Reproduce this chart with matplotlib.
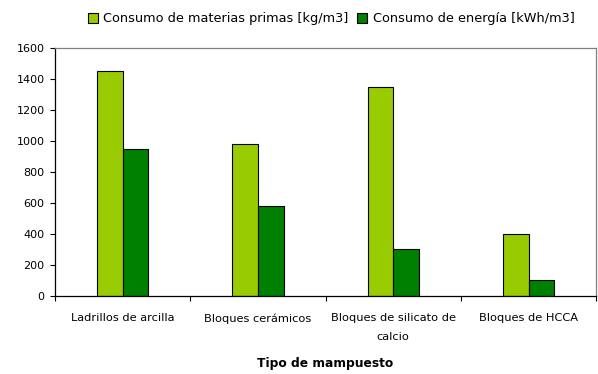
import matplotlib

matplotlib.use("Agg")
import matplotlib.pyplot as plt
import numpy as np

categorias = ["Ladrillos de arcilla", "Bloques cerámicos", "Bloques de silicato de\ncalcio", "Bloques de HCCA"]
materias_primas = [1450, 980, 1350, 400]
energia = [950, 580, 300, 100]
series = ["Consumo de materias primas [kg/m3]", "Consumo de energía [kWh/m3]"]

_LIGHT = "#99cc00"
_DARK = "#008000"

plt.rcParams["font.family"] = ["DejaVu Sans"]

fig = plt.figure(figsize=(5.98, 3.74), dpi=100)
ax = fig.add_axes([0.092, 0.209, 0.905, 0.663])

x = np.arange(len(categorias))
w = 0.19
ax.bar(x - w / 2, materias_primas, w, color=_LIGHT, edgecolor="black", linewidth=0.8, label=series[0])
ax.bar(x + w / 2, energia, w, color=_DARK, edgecolor="black", linewidth=0.8, label=series[1])

ax.set_xlim(-0.5, len(categorias) - 0.5)
ax.set_ylim(0, 1600)
ax.set_yticks(range(0, 1601, 200))
ax.tick_params(axis="y", labelsize=8, length=3.5, width=0.8, pad=4)

# category labels sit between boundary ticks
ax.set_xticks(x)
ax.set_xticklabels(categorias, fontsize=8.2, linespacing=2.05)
ax.tick_params(axis="x", which="major", length=0, pad=12.5)
ax.set_xticks(np.arange(-0.5, len(categorias)), minor=True)
ax.tick_params(axis="x", which="minor", length=3.5, width=0.8, direction="out")

for side in ("left", "bottom"):
    ax.spines[side].set_color("black")
    ax.spines[side].set_linewidth(0.9)
for side in ("top", "right"):
    ax.spines[side].set_color("#808080")
    ax.spines[side].set_linewidth(0.9)

ax.set_xlabel("Tipo de mampuesto", fontsize=8.8, fontweight="bold", labelpad=11)

fig.legend(
    loc="center left", bbox_to_anchor=(0.147, 0.950), ncol=2, frameon=False,
    borderpad=0, borderaxespad=0,
    fontsize=9.3, handlelength=0.75, handleheight=0.85, handletextpad=0.45, columnspacing=0.65,
)

fig.savefig("out.png", dpi=100, facecolor="white")
